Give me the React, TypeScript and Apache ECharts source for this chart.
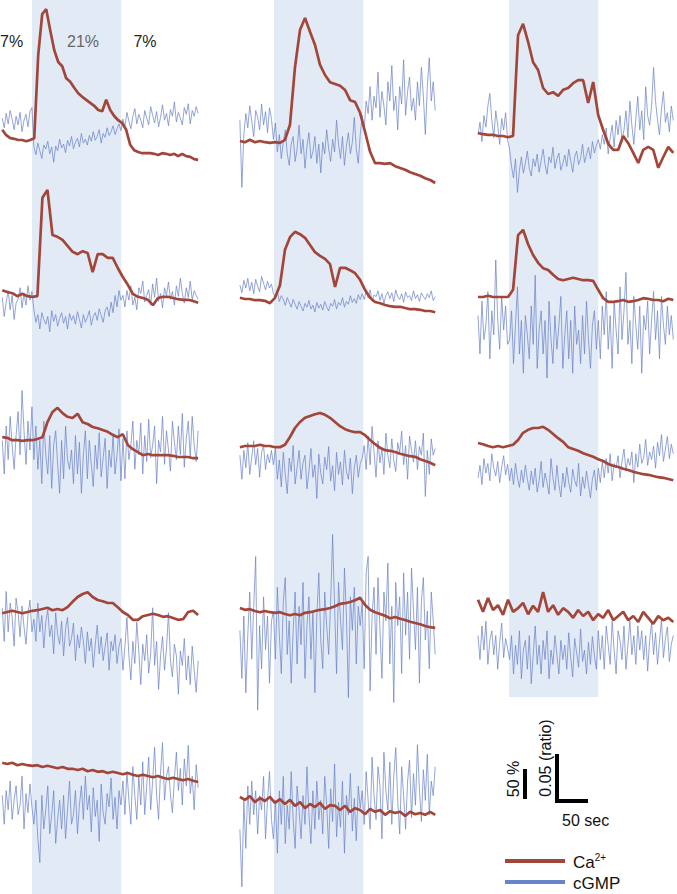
import React, { useEffect, useRef } from "react";
import * as echarts from "echarts";

// ---- protocol: O2 7% -> 21% (0..144 s) -> 7% ----
const O2_ON = 0;
const O2_OFF = 144;
const stimLabels = ["7%", "21%", "7%"];
// recording time span (s) of the traces in each column
const colTimes = [
  [-48, 268],
  [-55, 260],
  [-50, 265],
];

// ---- Ca2+ traces (% change) and cGMP traces (ratio change, x0.001) ----
const ca_A1 = [17, 8, 3, 2, 0, 0, -2, 0, 3, 142, 210, 218, 183, 150, 130, 123, 103, 97, 87, 78, 72, 67, 62, 57, 50, 48, 67, 50, 40, 33, 28, 17, -8, -17, -20, -22, -22, -22, -23, -25, -22, -23, -25, -23, -27, -23, -27, -28, -32, -33];
const cg_A1 = [4, -6, 9, -2, 12, 3, -8, 6, -3, 10, -10, 2, 8, -5, 11, 15, -26, -34, -22, -30, -38, -24, -28, -20, -33, -26, -42, -25, -30, -18, -27, -23, -32, -19, -25, -15, -28, -21, -17, -26, -12, -22, -18, -24, -14, -20, -10, -19, -15, -8, -22, -12, -16, -6, -14, -10, -4, -13, -7, -2, -9, 3, -5, 10, 1, -7, 6, 14, -2, 8, 2, -6, 12, 4, -3, 16, 7, -1, 11, -5, 5, 18, 2, 9, -4, 13, 6, 21, 0, 10, 4, -3, 15, 8, 19, -2, 12, 6, 16, 9];

const ca_B1 = [0, -2, 2, -2, 0, -2, -3, -2, -3, 2, 27, 123, 185, 205, 182, 160, 127, 110, 98, 95, 92, 85, 68, 65, 47, 15, -18, -37, -37, -38, -37, -42, -45, -48, -52, -55, -58, -62, -65, -70];
const cg_B1 = [5, -65, -10, 12, -3, 20, 4, -12, 15, 8, -5, 22, 0, 14, -8, 18, 6, -15, 2, -28, -10, -35, -18, -5, -30, -42, -20, -12, -38, -25, 0, -30, -15, -45, -22, -8, -35, -28, -12, -40, -20, -50, -18, -30, -5, -25, -38, -15, -28, 5, -20, -35, -12, -42, -22, -8, -30, -18, 8, -25, -40, -10, 10, -5, 25, 12, 40, 5, 30, 18, 55, 8, 35, 20, 0, 45, 25, 62, 15, 30, -5, 40, 22, 68, 10, 35, 50, 15, 28, 5, 45, 20, 60, 30, -10, 40, 70, 25, 45, 15];

const ca_C1 = [5, 3, 2, 2, 0, 0, -2, 0, 168, 187, 157, 123, 110, 80, 70, 73, 67, 77, 80, 88, 93, 93, 55, 90, 35, 10, -13, -23, -23, 0, -12, -28, -45, -23, -18, -23, -53, -35, -18, -28];
const cg_C1 = [-5, 8, -12, 15, 3, 25, 38, 10, -8, 20, 5, -15, 12, 0, 18, -10, -20, -38, -50, -30, -65, -42, -28, -45, -35, -22, -40, -48, -30, -38, -25, -44, -32, -20, -36, -46, -28, -34, -18, -40, -30, -24, -42, -35, -26, -38, -20, -32, -44, -28, -22, -36, -30, -15, -34, -26, -18, -30, -12, -24, -16, -10, -20, -5, -15, 2, -25, -8, 5, -18, 10, -5, 15, -12, 0, 20, -8, 30, 5, -15, 12, 35, 0, 20, -10, 45, 15, 5, 25, 65, 30, 10, -5, 22, 40, 8, 18, -2, 25, 10];

const ca_A2 = [8, 5, 3, -2, 2, -2, -3, -2, 162, 175, 100, 97, 92, 82, 72, 68, 73, 70, 38, 68, 68, 62, 62, 45, 30, 17, 2, -3, -5, -8, -17, -5, -3, -3, -5, -7, -8, -8, -10, -13];
const cg_A2 = [8, -12, 3, 15, -5, 10, -15, 2, 6, 18, -3, 12, 0, 20, 5, 14, -5, -18, -10, -25, -8, -15, -20, -12, -28, -6, -17, -10, -22, -14, -8, -19, -12, -25, -9, -16, -11, -20, -7, -15, -24, -10, -18, -13, -6, -21, -12, -8, -16, -4, -11, -18, -6, -2, -12, 3, -8, 10, -2, 15, 5, 10, -2, 15, 5, 20, 0, 8, -5, 18, 12, 25, 3, 10, 16, 0, 22, 8, 28, 4, 12, -3, 18, 10, 24, 6, 14, 0, 20, 9, 28, 12, 2, 18, 8, 25, 5, 15, 10, 6];

const ca_B2 = [2, 0, 0, -2, -2, -3, -7, 2, 23, 82, 103, 112, 108, 102, 90, 78, 72, 67, 58, 20, 52, 52, 48, 43, 32, 15, 2, -5, -7, -10, -12, -13, -13, -15, -17, -17, -18, -20, -20, -22];
const cg_B2 = [3, -5, 8, 0, 10, -3, 6, -6, 9, 2, -4, 12, 5, -2, 7, 0, 4, -6, -10, -4, -14, -8, -12, -18, -10, -15, -20, -12, -17, -22, -14, -19, -24, -16, -20, -13, -22, -18, -25, -15, -21, -17, -23, -14, -20, -24, -16, -19, -12, -22, -15, -18, -10, -20, -14, -17, -8, -15, -11, -16, -7, -12, -6, -12, -4, -10, -2, -14, -7, -9, -3, -13, -6, -16, -8, -4, -11, -5, -14, -2, -9, -12, -6, -15, -4, -10, -8, -13, -3, -11, -7, -14, -5, -9, -12, -6, -10, -3, -13, -9];

const ca_C2 = [0, 0, 2, 0, 0, 0, 0, 12, 103, 112, 88, 70, 57, 48, 45, 37, 30, 28, 30, 32, 30, 28, 28, 27, 12, -2, -8, -8, -7, -5, -8, -7, -5, -2, -3, -5, -5, -7, -3, -5];
const cg_C2 = [15, -25, 30, -10, 5, 40, -30, 20, -5, 73, 10, -20, 35, 0, 25, -15, -10, 20, -35, 5, 45, -25, 10, -45, 15, -5, -30, 25, -15, 57, -40, 0, 20, -25, 10, -50, 30, -10, -35, 15, -20, 5, 35, -40, -5, 20, -30, 10, -45, 25, -15, 0, -35, 15, -25, 30, -10, -40, 5, 20, -20, 10, -30, 25, -5, 40, -20, 15, -40, 30, 0, -25, 45, -10, 20, 60, -15, 10, -35, 35, 5, -20, 25, -45, 15, 0, 30, -25, 10, 40, -10, 20, -30, 35, 5, -15, 25, -5, 15, -10];

const ca_A3 = [3, 2, -2, -2, -3, -2, -2, 0, 3, 28, 45, 52, 43, 37, 35, 42, 28, 25, 20, 18, 15, 12, 7, 3, 8, -10, -17, -22, -27, -25, -27, -27, -27, -27, -28, -30, -30, -30, -32, -32];
const cg_A3 = [10, -25, 25, -10, 35, 5, -20, 15, 40, -5, 62, 20, -15, 30, 0, 45, -10, 25, -20, 10, -35, 30, -5, -25, 15, -40, 5, 20, -15, -45, 10, -30, 25, -10, -20, 0, -35, 15, -25, 8, -45, -5, 20, -30, 10, -15, -38, 5, -20, 18, -28, -8, 12, -40, 0, -18, 15, -25, -5, 22, -32, 12, -30, 20, -10, 5, 30, -20, 10, -5, 28, -25, 15, -12, 32, -8, 5, 25, -35, 10, -2, 35, -15, 20, 0, -22, 30, 8, -10, 25, -5, 38, -18, 12, 30, -8, 35, 5, -12, 20];

const ca_B3 = [-2, 0, 0, 0, 2, 0, 0, -2, -2, 2, 15, 30, 40, 47, 50, 53, 55, 52, 47, 40, 33, 28, 25, 23, 23, 18, 10, 3, -3, -7, -8, -10, -13, -15, -17, -18, -22, -25, -28, -32];
const cg_B3 = [5, -20, 10, -8, 18, -15, 3, 20, -5, 12, -18, 8, 15, -10, 6, -3, 10, -5, 12, -20, 0, -28, 8, -15, -35, 2, -12, 15, -25, -8, 10, -20, -3, 5, -30, -12, 12, -18, -5, -40, 6, -14, -25, 3, -10, 14, -22, -6, -32, 8, -15, -2, -26, 10, -12, -20, 2, -35, -8, 5, -18, -4, 2, 15, -10, 25, -5, 35, 8, -18, 20, -3, 12, -15, 28, 5, -8, 22, 0, -12, 18, 8, 30, -5, 15, -20, 25, 10, -2, 20, -10, 14, 5, 28, -38, 10, -15, 22, 5, 12];

const ca_C3 = [5, 3, 0, -2, 0, -2, 0, 2, 10, 22, 27, 30, 30, 32, 27, 20, 13, 7, -2, -5, -8, -12, -15, -18, -22, -25, -30, -33, -35, -38, -40, -43, -45, -47, -48, -50, -52, -53, -55, -57];
const cg_C3 = [-5, 8, -12, 15, 0, 10, -8, 20, 5, -3, 12, -10, 6, 18, -2, 9, -8, 5, -12, 10, -5, -15, 3, -10, 8, -6, -18, 2, -12, 5, -20, -8, 12, -15, 0, -10, -22, 15, -5, -18, 8, -12, -25, 0, -15, 6, -10, -20, 4, -8, -14, 10, -24, -4, -16, 2, -12, -26, -6, 3, -18, 5, -10, 12, -5, 15, 0, 20, -8, 10, 5, 18, -5, 12, 25, 2, 15, 8, 22, -10, 20, 6, 30, 10, 16, 35, 8, 22, 14, 28, 5, 32, 18, 40, 12, 25, 38, 15, 30, 20];

const ca_A4 = [-2, 0, 2, 0, -2, 0, 2, 3, 5, 7, 3, 5, 3, 8, 17, 25, 30, 33, 25, 20, 18, 15, 15, 8, 0, -5, -13, -13, -7, -5, -3, -5, -8, -7, -10, -13, -12, 0, 2, -5];
const cg_A4 = [20, -15, 37, -5, 25, 10, -20, 30, 15, -10, 22, 0, -18, 12, 28, -5, 8, -15, 25, -5, 12, -22, 5, 18, -10, 2, -28, 15, -8, -18, 6, -30, -2, 10, -20, -12, 4, -35, -8, -22, 0, -15, -38, -5, -25, -12, -42, -18, 2, -28, -10, -35, -20, -6, -45, -15, -25, -8, -38, -20, -12, -45, -20, 10, -30, -55, -15, -38, 5, -25, -60, -18, -35, -8, -48, -28, 20, -40, -15, -65, -30, -10, -45, -22, 15, -35, -52, -18, -30, -70, -25, -40, -12, -55, -30, -60, -20, -45, -68, -35];

const ca_B4 = [5, 2, 3, 0, -2, 0, -2, -3, -2, -5, -7, -5, -7, -3, -2, 0, 2, 3, 5, 8, 12, 13, 15, 18, 22, 10, 2, -2, -5, -8, -12, -10, -13, -15, -18, -20, -22, -25, -27, -28];
const cg_B4 = [10, -40, 25, -55, 5, 50, -20, 35, 87, -73, 15, -30, 45, -10, 25, -45, 20, 30, -20, 55, 5, -35, 40, 65, -15, 20, -45, 10, 50, -25, 35, -5, 60, -40, 15, 45, -20, 30, -55, 25, 70, 0, -30, 50, 15, -15, 40, 110, 35, -35, 60, 20, -10, 75, 25, -60, 45, 10, 55, -25, 35, 15, 40, -30, 70, 87, -53, 25, 55, -15, 65, 10, -40, 50, 20, 80, -25, 35, -65, 60, 15, 45, -35, 70, 5, 50, -20, 75, 30, -10, 55, -45, 40, 65, 0, 30, -30, 50, 20, -15];

const ca_C4 = [17, -3, 20, 0, 8, -8, 17, -3, 3, 12, -7, 7, -3, 30, -3, 8, -8, 3, -3, -13, 0, -10, -3, -17, -7, -13, 0, -17, -10, -3, -17, -10, -20, -3, -13, -23, -10, -17, -13, -20];
const cg_C4 = [15, -10, 25, 0, 30, -15, 10, 20, -5, 15, -20, 8, 28, -8, 12, 2, -10, 15, -25, 5, -15, 20, -30, 0, 10, -20, 15, -35, -5, 25, -15, 5, -25, 10, -10, 20, -30, 0, -15, 15, -5, -25, 10, -10, 5, -20, 18, -8, -28, 12, -3, -18, 22, -12, 0, -25, 8, -15, 14, -6, -20, 20, -10, 15, -20, 25, 5, -15, 30, 0, -25, 20, 10, -10, 25, -20, 5, 30, -5, 15, -15, 25, 0, 20, -10, 15, -22, 10, 28, -5, 18, -15, 8, 32, -8, 12, 24, -12, 6, 15];

const ca_A5 = [2, 0, 2, -2, 0, -2, -3, -2, -5, -3, -5, -7, -5, -8, -8, -10, -8, -12, -10, -13, -12, -15, -13, -15, -17, -15, -18, -20, -18, -20, -22, -20, -23, -25, -23, -25, -27, -25, -28, -30];
const cg_A5 = [10, -20, 15, -5, 25, -15, 5, 20, -10, 0, 30, -25, 12, -8, 22, -2, -20, 5, -35, -60, 10, -25, -5, 20, -30, -10, 15, -40, -15, 5, -25, 10, -35, -5, 25, -20, -10, 15, -30, 0, 20, -15, 30, -5, 10, -28, 18, -12, 5, -38, 22, -8, -20, 12, -2, 28, -15, 8, -25, 15, 0, 25, -10, 35, 5, -20, 40, 10, -15, 30, 0, 45, -10, 20, 50, -5, 25, 60, 10, -15, 35, 65, 5, 30, 40, 10, -8, 28, 55, 15, 38, 0, 48, 20, 62, 12, 30, -5, 42, 18];

const ca_B5 = [2, -3, 3, -7, 0, -5, 2, -8, -2, -10, -3, -13, -7, -17, -10, -15, -8, -18, -12, -13, -20, -13, -23, -17, -20, -27, -18, -23, -20, -28, -22, -25, -23, -30, -23, -27, -25, -28, -23, -28];
const cg_B5 = [-20, -80, 10, -40, 25, -15, 30, -5, 20, -25, 15, 0, 35, -30, 10, 40, -10, -30, 10, -45, 20, -15, 35, -35, 5, -20, 40, -10, -40, 25, 0, -30, 15, -15, 45, -5, -35, 20, -20, 30, -10, 10, -25, 35, 5, -40, 22, -12, 48, -28, 8, -18, 30, -45, 15, -5, 38, -22, 12, -32, 25, 2, 20, -15, 40, 10, -20, 55, 15, -10, 45, 25, -30, 60, 20, 0, 50, -15, 35, 65, 10, -25, 45, 15, -20, 30, 52, -8, 38, 5, 68, 22, -12, 42, 10, 58, -5, 30, 15, 45];

// ---- layout (pixels) ----
const W = 677;
const H = 894;
const PX_PER_SEC = 0.62; // 50 sec = 31 px
const CA_PX_PER_UNIT = 0.6; // 50 % = 30 px
const CG_PX_PER_UNIT = 0.96; // 0.05 ratio = 48 px
const columns = [
  { left: 0, width: 206, shadeX: 32, shadeBottom: 894 },
  { left: 236, width: 206, shadeX: 274, shadeBottom: 894 },
  { left: 474, width: 203, shadeX: 509, shadeBottom: 697 },
];
const panels = [
  { col: 0, caBase: 140, cgBase: 122, ca: ca_A1, cg: cg_A1 },
  { col: 1, caBase: 141, cgBase: 125, ca: ca_B1, cg: cg_B1 },
  { col: 2, caBase: 136, cgBase: 130, ca: ca_C1, cg: cg_C1 },
  { col: 0, caBase: 295, cgBase: 305, ca: ca_A2, cg: cg_A2 },
  { col: 1, caBase: 299, cgBase: 288, ca: ca_B2, cg: cg_B2 },
  { col: 2, caBase: 297, cgBase: 330, ca: ca_C2, cg: cg_C2 },
  { col: 0, caBase: 439, cgBase: 450, ca: ca_A3, cg: cg_A3 },
  { col: 1, caBase: 446, cgBase: 460, ca: ca_B3, cg: cg_B3 },
  { col: 2, caBase: 446, cgBase: 473, ca: ca_C3, cg: cg_C3 },
  { col: 0, caBase: 612, cgBase: 627, ca: ca_A4, cg: cg_A4 },
  { col: 1, caBase: 611, cgBase: 640, ca: ca_B4, cg: cg_B4 },
  { col: 2, caBase: 610, cgBase: 650, ca: ca_C4, cg: cg_C4 },
  { col: 0, caBase: 764, cgBase: 805, ca: ca_A5, cg: cg_A5 },
  { col: 1, caBase: 798, cgBase: 810, ca: ca_B5, cg: cg_B5 },
];

const CA_COLOR = "#a3463a";
const CG_COLOR = "#6a82c9";
const SHADE = "#e2eaf6";
const FONT = '"Liberation Sans", Arial, Helvetica, sans-serif';

function xRange(c: number) {
  const col = columns[c];
  const min = -(col.shadeX - col.left) / PX_PER_SEC;
  return { min, max: min + col.width / PX_PER_SEC };
}

function toXY(vals: number[], t0: number, t1: number) {
  const n = vals.length;
  return vals.map((v, i) => [t0 + (i * (t1 - t0)) / (n - 1), v]);
}

function buildOption() {
  const grid: any[] = [];
  const xAxis: any[] = [];
  const yAxis: any[] = [];
  const series: any[] = [];

  // shaded 21% O2 periods, one grid per column
  columns.forEach((col, c) => {
    const g = grid.length;
    grid.push({ left: col.left, top: 0, width: col.width, height: col.shadeBottom });
    const r = xRange(c);
    xAxis.push({ gridIndex: g, type: "value", min: r.min, max: r.max, show: false });
    yAxis.push({ gridIndex: g, type: "value", min: 0, max: 1, show: false });
    series.push({
      type: "line",
      xAxisIndex: g,
      yAxisIndex: yAxis.length - 1,
      data: [[O2_ON, 0.5]],
      showSymbol: false,
      symbol: "none",
      lineStyle: { opacity: 0 },
      silent: true,
      z: 1,
      markArea: {
        silent: true,
        itemStyle: { color: SHADE },
        data: [[{ xAxis: O2_ON }, { xAxis: O2_OFF }]],
      },
    });
  });

  panels.forEach((p) => {
    const g = grid.length;
    const col = columns[p.col];
    grid.push({ left: col.left, top: 0, width: col.width, height: H });
    const r = xRange(p.col);
    xAxis.push({ gridIndex: g, type: "value", min: r.min, max: r.max, show: false });
    const caIdx = yAxis.length;
    yAxis.push({
      gridIndex: g,
      type: "value",
      min: -(H - p.caBase) / CA_PX_PER_UNIT,
      max: p.caBase / CA_PX_PER_UNIT,
      show: false,
    });
    const cgIdx = yAxis.length;
    yAxis.push({
      gridIndex: g,
      type: "value",
      min: -(H - p.cgBase) / CG_PX_PER_UNIT,
      max: p.cgBase / CG_PX_PER_UNIT,
      show: false,
    });
    const [t0, t1] = colTimes[p.col];
    series.push({
      name: "cGMP",
      type: "line",
      xAxisIndex: g,
      yAxisIndex: cgIdx,
      data: toXY(p.cg, t0, t1),
      showSymbol: false,
      symbol: "none",
      lineStyle: { color: CG_COLOR, width: 0.8, opacity: 0.9 },
      z: 2,
    });
    series.push({
      name: "Ca2+",
      type: "line",
      xAxisIndex: g,
      yAxisIndex: caIdx,
      data: toXY(p.ca, t0, t1),
      showSymbol: false,
      symbol: "none",
      lineStyle: { color: CA_COLOR, width: 2.7 },
      z: 3,
    });
  });

  const txt = (x: number, y: number, text: string, extra: any = {}, rotation = 0) => ({
    type: "text",
    x,
    y,
    rotation,
    z: 10,
    style: {
      text,
      fill: "#111",
      font: `16px ${FONT}`,
      textAlign: "left",
      textVerticalAlign: "middle",
      ...extra,
    },
  });
  const line = (x1: number, y1: number, x2: number, y2: number, color: string, w: number) => ({
    type: "line",
    z: 10,
    shape: { x1, y1, x2, y2 },
    style: { stroke: color, lineWidth: w },
  });

  const graphic: any[] = [
    txt(0, 41, stimLabels[0], { fill: "#222" }),
    txt(83, 41, stimLabels[1], { fill: "#666", textAlign: "center" }),
    txt(145, 41, stimLabels[2], { fill: "#222", textAlign: "center" }),
    // scale bars
    line(525, 769, 525, 799, "#000", 4),
    txt(513, 779, "50 %", { textAlign: "center" }, Math.PI / 2),
    line(557, 754, 557, 803, "#000", 4),
    line(555, 801, 588, 801, "#000", 4),
    txt(545, 758, "0.05 (ratio)", { textAlign: "center" }, Math.PI / 2),
    txt(562, 820, "50 sec", {}),
    // legend
    line(505, 861, 565, 861, CA_COLOR, 4),
    {
      type: "text",
      x: 573,
      y: 862,
      z: 10,
      style: {
        text: "{a|Ca}{b|2+}",
        textVerticalAlign: "middle",
        rich: {
          a: { fontSize: 17, fontFamily: FONT, fill: "#111", color: "#111" },
          b: { fontSize: 10, fontFamily: FONT, fill: "#111", color: "#111", padding: [0, 0, 10, 0] },
        },
      },
    },
    line(505, 882, 565, 882, CG_COLOR, 4),
    txt(573, 883, "cGMP", { font: `17px ${FONT}` }),
  ];

  return {
    animation: false,
    backgroundColor: "#ffffff",
    grid,
    xAxis,
    yAxis,
    series,
    graphic,
  };
}

export default function App() {
  const ref = useRef<HTMLDivElement>(null);
  useEffect(() => {
    if (!ref.current) return;
    const chart = echarts.init(ref.current, undefined, { renderer: "svg" });
    chart.setOption(buildOption() as any);
    return () => chart.dispose();
  }, []);
  return (
    <div
      ref={ref}
      style={{ position: "absolute", left: 0, top: 0, width: W, height: H }}
    />
  );
}
